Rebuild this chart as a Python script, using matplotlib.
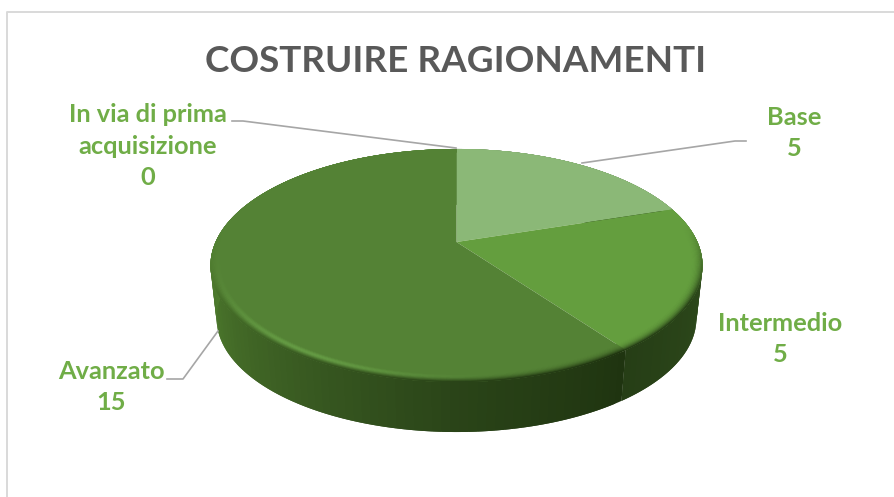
import numpy as np
import matplotlib
matplotlib.use('Agg')
import matplotlib.pyplot as plt
from matplotlib.collections import PolyCollection
from matplotlib.colors import to_rgb

categories = ['In via di prima\nacquisizione', 'Base', 'Intermedio', 'Avanzato']
values = [0, 5, 5, 15]
slice_colors = ['#3f6b2a', '#8bb877', '#649e3e', '#548235']
title = 'COSTRUIRE RAGIONAMENTI'

GREEN = '#70ad47'
CX, CY = 456.5, 242.0
R, B, K = 241.0, 111.8, 0.2016
DEPTH, SHRINK = 53.5, 0.975


def project(theta, r=1.0, down=0.0):
    # circle -> perspective ellipse, theta clockwise from 12 o'clock
    x = r * np.sin(theta)
    y = r * np.cos(theta)
    w = 1 + K * y
    s = 1 - (1 - SHRINK) * down
    return CX + s * R * x / w, CY + DEPTH * down - s * B * y / w


def blend(a, b, t):
    a, b = np.array(to_rgb(a)), np.array(to_rgb(b))
    return tuple(a + (b - a) * float(np.clip(t, 0, 1)))


def wall_color(theta, idx):
    # side shading goes from mid green on the left to nearly black at the front
    if idx == 2:
        t = np.clip((theta - np.radians(72)) / np.radians(72), 0, 1)
        return blend('#33521f', '#263e16', t)
    xs = [144, 180, 215, 250, 275, 300]
    shades = ['#1f3410', '#2a4418', '#3a5c22', '#4a752b', '#4f7f2f', '#4f7f2f']
    a = np.degrees(theta)
    i = min(max(np.searchsorted(xs, a) - 1, 0), len(xs) - 2)
    return blend(shades[i], shades[i + 1], (a - xs[i]) / (xs[i + 1] - xs[i]))


fig = plt.figure(figsize=(8.94, 4.97), dpi=100)
ax = fig.add_axes([0, 0, 1, 1])
ax.set_xlim(0, 894)
ax.set_ylim(497, 0)
ax.axis('off')
plt.rcParams['font.family'] = ['Lato', 'DejaVu Sans']

# chart frame, cut off by the right and bottom edges
ax.plot([7, 7, 894], [497, 12, 12], color='#d9d9d9', lw=1.4)

fractions = np.array(values) / sum(values)
ends = np.cumsum(fractions) * 2 * np.pi
starts = ends - fractions * 2 * np.pi

# outer wall, only the front half shows; strips overlap so no seams appear
polys, cols = [], []
for i in range(len(values)):
    if values[i] == 0:
        continue
    t = np.linspace(starts[i], ends[i], int(200 * fractions[i]) + 3)
    step = t[1] - t[0]
    for a in t[:-1]:
        b = min(a + 2 * step, ends[i])
        xt, yt = project(np.linspace(a, b, 5))
        xb, yb = project(np.linspace(b, a, 5), down=1)
        polys.append(np.c_[np.r_[xt, xb], np.r_[yt, yb]])
        cols.append(wall_color(a + step / 2, i))
ax.add_collection(PolyCollection(polys, facecolors=cols, linewidths=0))

# top faces
for i in range(len(values)):
    if values[i] == 0:
        continue
    t = np.linspace(starts[i], ends[i], 200)
    x, y = project(t)
    ax.fill(np.r_[CX, x], np.r_[CY, y], color=slice_colors[i], lw=0)

# rounded rim between top face and wall
rings = np.linspace(0.95, 1.0, 12)
polys, cols = [], []
for i in range(len(values)):
    if values[i] == 0:
        continue
    t = np.linspace(starts[i], ends[i], int(300 * fractions[i]) + 3)
    step = t[1] - t[0]
    for k in range(len(rings) - 1):
        u = k / (len(rings) - 2)
        r1, r2 = rings[k], rings[min(k + 2, len(rings) - 1)]
        for a in t[:-1]:
            b = min(a + 2 * step, ends[i])
            mid = a + step / 2
            front = np.clip(-np.cos(mid) + 0.15, 0, 1)
            glow = np.clip(np.cos(mid - np.radians(212)), 0, 1) ** 8
            base = blend(slice_colors[i], '#6ca64a', glow * np.sin(u * np.pi) ** 2)
            x1, y1 = project(a, r1)
            x2, y2 = project(b, r1)
            x3, y3 = project(b, r2)
            x4, y4 = project(a, r2)
            polys.append([(x1, y1), (x2, y2), (x3, y3), (x4, y4)])
            cols.append(blend(base, wall_color(mid, i), (u ** 2.5) * min(front * 1.6, 1)))
ax.add_collection(PolyCollection(polys, facecolors=cols, linewidths=0))

# leader lines
leaders = [([232, 243, 456], [121, 121, 148]),
           ([746, 735, 582], [141, 141, 163]),
           ([167, 183, 218], [379, 379, 331])]
for lx, ly in leaders:
    ax.plot(lx, ly, color='#a6a6a6', lw=1.2)

label_pos = [(148, 146), (794, 133), (780, 339), (111, 387)]
for cat, v, (lx, ly) in zip(categories, values, label_pos):
    ax.text(lx, ly, f'{cat}\n{v}', ha='center', va='center', color=GREEN,
            fontsize=18.3, fontweight='bold', linespacing=1.46)

ax.text(456, 61, title, ha='center', va='center', color='#595959',
        fontsize=26.6, fontweight='bold')

fig.savefig('out.png', dpi=100)
